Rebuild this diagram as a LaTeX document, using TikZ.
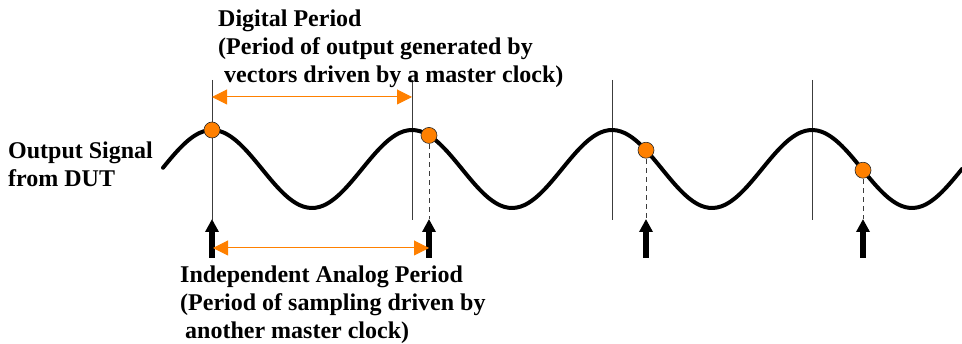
\documentclass[tikz,border=0pt]{standalone}
\usepackage{fontspec}
\setmainfont{Liberation Serif}
\usetikzlibrary{arrows.meta,positioning}
\definecolor{sampleorange}{HTML}{FF8000}
\definecolor{clockgray}{HTML}{3C3C3C}
\tikzset{
  label/.style={font=\fontsize{24}{28}\selectfont\bfseries,align=left,
    inner sep=0pt,anchor=north west},
  wave/.style={line width=4pt,line cap=round},
  clockline/.style={clockgray,line width=0.9pt},
  sampleline/.style={clockgray,line width=0.9pt,dash pattern=on 5pt off 4pt},
  sample/.style={circle,draw=black!85,fill=sampleorange,line width=0.6pt,
    minimum size=16pt,inner sep=0pt},
  trigger/.style={-{Triangle[length=13pt,width=13pt]},line width=5.5pt},
  period/.style={{Triangle[length=15pt,width=15pt]}-{Triangle[length=15pt,width=15pt]},
    sampleorange,line width=1pt}
}
\begin{document}
\begin{tikzpicture}[x=1pt,y=-1pt]
  \useasboundingbox (0,0) rectangle (962,344);
  % Digital clock edges
  \foreach \i in {0,...,3} {
    \pgfmathsetmacro{\x}{212 + \i*200}
    \coordinate (ct\i) at (\x,80);
    \coordinate (cb\i) at (\x,220);
    \draw[clockline] (ct\i) -- (cb\i);
  }
  % Output signal
  \draw[wave] plot[domain=163:962,samples=200,smooth] (\x,{169-39*cos((\x-212)*1.8)});
  % Analog sampling points
  \foreach \i in {0,...,3} {
    \pgfmathsetmacro{\x}{212 + \i*217}
    \pgfmathsetmacro{\y}{169 - 39*cos((\x-212)*1.8)}
    \coordinate (tip\i) at (\x,219);
    \coordinate (base\i) at (\x,258);
    \ifnum\i>0 \draw[sampleline] (\x,\y) -- (tip\i); \fi
    \node[sample] (dot\i) at (\x,\y) {};
    \draw[trigger] (base\i) -- (tip\i);
  }
  % Periods
  \coordinate (dl) at (212,97);
  \coordinate (dr) at (412,97);
  \draw[period] (dl) -- (dr);
  \coordinate (al) at (213,248);
  \coordinate (ar) at (429,248);
  \draw[period] (al) -- (ar);
  % Labels
  \node[label] (digital) at (218,9.6)
    {Digital Period\\(Period of output generated by\\\hspace*{6pt}vectors driven by a master clock)};
  \node[label] (signal) at (8,141.6) {Output Signal\\from DUT};
  \node[label] (analog) at (180,265.6)
    {Independent Analog Period\\(Period of sampling driven by\\\hspace*{5pt}another master clock)};
\end{tikzpicture}
\end{document}
